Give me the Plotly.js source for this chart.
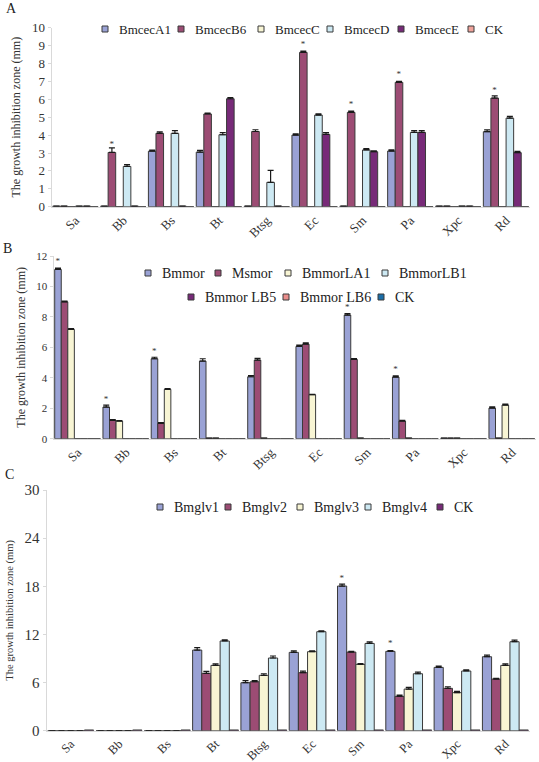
<!DOCTYPE html>
<html><head><meta charset="utf-8">
<script src="https://cdn.plot.ly/plotly-3.0.1.min.js"></script>
<style>html,body{margin:0;padding:0;background:#fff;}#chart{width:539px;height:762px;}</style>
</head><body><div id="chart"></div>
<script>
// ---------- categories ----------
const categories = ['Sa','Bb','Bs','Bt','Btsg','Ec','Sm','Pa','Xpc','Rd'];

// ---------- Panel A ----------
const seriesA = ['BmcecA1','BmcecB6','BmcecC','BmcecD','BmcecE','CK'];
const A_BmcecA1 = [0, 0, 3.10, 3.05, 0, 4.00, 0, 3.11, 0, 4.19];
const A_BmcecB6 = [0, 3.03, 4.10, 5.18, 4.20, 8.62, 5.27, 6.95, 0, 6.07];
const A_BmcecC  = [0, 0, 0, 0, 0, 0, 0, 0, 0, 0];
const A_BmcecD  = [0, 2.25, 4.10, 4.02, 1.36, 5.12, 3.17, 4.15, 0, 4.95];
const A_BmcecE  = [0, 0, 0, 6.03, 0, 4.04, 3.07, 4.15, 0, 3.02];
const A_CK      = [0, 0, 0, 0, 0, 0, 0, 0, 0, 0];
const errA_BmcecA1 = [0, 0, 0.06, 0.10, 0, 0.07, 0, 0.07, 0, 0.10];
const errA_BmcecB6 = [0, 0.26, 0.08, 0.05, 0.10, 0.07, 0.07, 0.05, 0, 0.12];
const errA_BmcecD  = [0, 0.10, 0.15, 0.12, 0.67, 0.07, 0.07, 0.10, 0, 0.10];
const errA_BmcecE  = [0, 0, 0, 0.07, 0, 0.10, 0.05, 0.10, 0, 0.07];
const starA_BmcecB6 = ['', '*', '', '', '', '*', '*', '*', '', '*'];

// ---------- Panel B ----------
const seriesB = ['Bmmor','Msmor','BmmorLA1','BmmorLB1','Bmmor LB5','Bmmor LB6','CK'];
const B_Bmmor    = [11.12, 2.08, 5.25, 5.10, 4.07, 6.06, 8.12, 4.05, 0, 2.01];
const B_Msmor    = [8.99, 1.20, 1.00, 0, 5.16, 6.21, 5.21, 1.16, 0, 0];
const B_BmmorLA1 = [7.18, 1.16, 3.24, 0, 0, 2.89, 0, 0, 0, 2.21];
const B_BmmorLB1 = [0, 0, 0, 0, 0, 0, 0, 0, 0, 0];
const B_BmmorLB5 = [0, 0, 0, 0, 0, 0, 0, 0, 0, 0];
const B_BmmorLB6 = [0, 0, 0, 0, 0, 0, 0, 0, 0, 0];
const B_CK       = [0, 0, 0, 0, 0, 0, 0, 0, 0, 0];
const errB_Bmmor    = [0.08, 0.12, 0.10, 0.15, 0.08, 0.08, 0.10, 0.08, 0, 0.08];
const errB_Msmor    = [0.05, 0.05, 0.05, 0, 0.12, 0.08, 0.05, 0.05, 0, 0];
const errB_BmmorLA1 = [0.05, 0.03, 0.05, 0, 0, 0.03, 0, 0, 0, 0.06];
const starB_Bmmor   = ['*', '*', '*', '', '', '', '*', '*', '', ''];

// ---------- Panel C ----------
const seriesC = ['Bmglv1','Bmglv2','Bmglv3','Bmglv4','CK'];
const C_Bmglv1 = [0, 0, 0, 10.05, 5.98, 9.76, 18.03, 9.89, 7.89, 9.22];
const C_Bmglv2 = [0, 0, 0, 7.15, 6.10, 7.23, 9.80, 4.28, 5.28, 6.44];
const C_Bmglv3 = [0, 0, 0, 8.14, 6.90, 9.85, 8.27, 5.19, 4.74, 8.14];
const C_Bmglv4 = [0, 0, 0, 11.18, 9.06, 12.34, 10.88, 7.10, 7.44, 11.09];
const C_CK     = [0, 0, 0, 0, 0, 0, 0, 0, 0, 0];
const errC_Bmglv1 = [0, 0, 0, 0.30, 0.25, 0.20, 0.25, 0.10, 0.15, 0.20];
const errC_Bmglv2 = [0, 0, 0, 0.25, 0.15, 0.20, 0.10, 0.15, 0.20, 0.10];
const errC_Bmglv3 = [0, 0, 0, 0.20, 0.20, 0.10, 0.10, 0.20, 0.15, 0.20];
const errC_Bmglv4 = [0, 0, 0, 0.15, 0.25, 0.10, 0.20, 0.20, 0.15, 0.20];
const starC_Bmglv1 = ['', '', '', '', '', '', '*', '*', '', ''];

// ---------- styles ----------
const W = 539, H = 762;
const FONT = "'Liberation Serif', 'Times New Roman', serif";
const PERI = '#9aa2d5', MAUVE = '#9c4c74', CREAM = '#f8f5d4', LBLUE = '#cde9f3',
      PURPLE = '#772a78', SALMON = '#f0a39b', SALMON2 = '#ea8e8c', BLUE = '#1b6ea8';
const EDGE = '#3a3a3a';
const px2x = p => p / W;
const px2y = p => 1 - p / H;

const panels = [
  { ax: '', range: 10, dtick: 1, tickSize: 13, titleSize: 12,
    xdom: [51.5, 530], ydom: [206.7, 27.7], catSize: 13,
    names: seriesA,
    values: [A_BmcecA1, A_BmcecB6, A_BmcecC, A_BmcecD, A_BmcecE, A_CK],
    errors: [errA_BmcecA1, errA_BmcecB6, null, errA_BmcecD, errA_BmcecE, null],
    stars:  [null, starA_BmcecB6, null, null, null, null],
    colors: [PERI, MAUVE, CREAM, LBLUE, PURPLE, SALMON],
    dashZero: [true, true, false, true, true, false],
    legendY: [29, 29, 29, 29, 29, 29],
    legendTextX: [117, 193, 273, 342, 413, 483], legendSize: 13 },
  { ax: '2', range: 12, dtick: 2, tickSize: 11, titleSize: 12,
    xdom: [53.5, 536], ydom: [438.7, 256], catSize: 13,
    names: seriesB,
    values: [B_Bmmor, B_Msmor, B_BmmorLA1, B_BmmorLB1, B_BmmorLB5, B_BmmorLB6, B_CK],
    errors: [errB_Bmmor, errB_Msmor, errB_BmmorLA1, null, null, null, null],
    stars:  [starB_Bmmor, null, null, null, null, null, null],
    colors: [PERI, MAUVE, CREAM, LBLUE, PURPLE, SALMON2, BLUE],
    dashZero: [true, true, true, false, false, false, false],
    legendY: [273, 273, 273, 273, 297, 297, 297],
    legendTextX: [160, 230, 300, 397, 203, 298, 393], legendSize: 14 },
  { ax: '3', range: 30, dtick: 6, tickSize: 15, titleSize: 10.5,
    xdom: [46.5, 529.5], ydom: [730.7, 490], catSize: 12.5,
    names: seriesC,
    values: [C_Bmglv1, C_Bmglv2, C_Bmglv3, C_Bmglv4, C_CK],
    errors: [errC_Bmglv1, errC_Bmglv2, errC_Bmglv3, errC_Bmglv4, null],
    stars:  [starC_Bmglv1, null, null, null, null],
    colors: [PERI, MAUVE, CREAM, LBLUE, PURPLE],
    dashZero: [false, false, false, false, true],
    legendY: [507, 507, 507, 507, 507],
    legendTextX: [172, 240, 312, 380, 452], legendSize: 14 }
];

const traces = [];
const shapes = [];
const annotations = [];
const layout = {
  width: W, height: H, margin: {l: 0, r: 0, t: 0, b: 0},
  paper_bgcolor: '#fff', plot_bgcolor: 'rgba(0,0,0,0)',
  barmode: 'group', bargap: 0.05, bargroupgap: 0,
  showlegend: false
};

panels.forEach(p => {
  const xa = 'x' + p.ax, ya = 'y' + p.ax;
  const dashH = p.range * 0.003;
  p.names.forEach((name, i) => {
    const vals = p.values[i];
    const shown = vals.map(v => (v === 0 && p.dashZero[i]) ? dashH : v);
    const t = {
      type: 'bar', name: name, x: categories, y: shown,
      xaxis: xa, yaxis: ya,
      marker: {color: p.colors[i], line: {color: EDGE, width: 1}},
      cliponaxis: false
    };
    if (p.errors[i]) {
      t.error_y = {type: 'data', symmetric: false, array: p.errors[i],
                   arrayminus: p.errors[i].map(() => 0),
                   color: '#1a1a1a', thickness: 1.2, width: 3};
    }
    if (p.stars[i]) {
      t.text = p.stars[i];
      t.textposition = 'outside';
      t.constraintext = 'none';
      t.textangle = 0;
      t.textfont = {family: FONT, size: 9, color: '#333'};
      t.outsidetextfont = {family: FONT, size: 9, color: '#333'};
    }
    traces.push(t);

    const ly = p.legendY[i], tx = p.legendTextX[i];
    shapes.push({type: 'rect', xref: 'paper', yref: 'paper',
      x0: px2x(tx - 15), x1: px2x(tx - 9), y0: px2y(ly + 3), y1: px2y(ly - 3),
      fillcolor: p.colors[i], line: {color: EDGE, width: 1}});
    annotations.push({xref: 'paper', yref: 'paper', x: px2x(tx), y: px2y(ly),
      xanchor: 'left', yanchor: 'middle', showarrow: false, text: name,
      font: {family: FONT, size: p.legendSize, color: '#222'}});
  });

  layout['xaxis' + p.ax] = {
    domain: [px2x(p.xdom[0]), px2x(p.xdom[1])], anchor: ya,
    type: 'category', range: [-0.5, categories.length - 0.5],
    showline: true, linecolor: '#d9d9d9', linewidth: 1,
    ticks: '', tickangle: -45, showgrid: false, zeroline: false,
    tickfont: {family: FONT, size: p.catSize, color: '#333'}
  };
  layout['yaxis' + p.ax] = {
    domain: [px2y(p.ydom[0]), px2y(p.ydom[1])], anchor: xa,
    range: [0, p.range], dtick: p.dtick, tick0: 0,
    showline: true, linecolor: '#d9d9d9', linewidth: 1,
    ticks: 'outside', ticklen: 3, tickcolor: '#d9d9d9',
    showgrid: false, zeroline: false,
    tickfont: {family: FONT, size: p.tickSize, color: '#333'},
    title: {text: 'The growth inhibition zone (mm)', standoff: 8,
            font: {family: FONT, size: p.titleSize, color: '#333'}}
  };
});

[['A', 11, 9], ['B', 7, 249], ['C', 9, 474]].forEach(([t, x, y]) => {
  annotations.push({xref: 'paper', yref: 'paper', x: px2x(x), y: px2y(y),
    xanchor: 'center', yanchor: 'middle', showarrow: false, text: t,
    font: {family: FONT, size: 14, color: '#222'}});
});

layout.shapes = shapes;
layout.annotations = annotations;

Plotly.newPlot('chart', traces, layout, {displayModeBar: false});
</script>
</body></html>
